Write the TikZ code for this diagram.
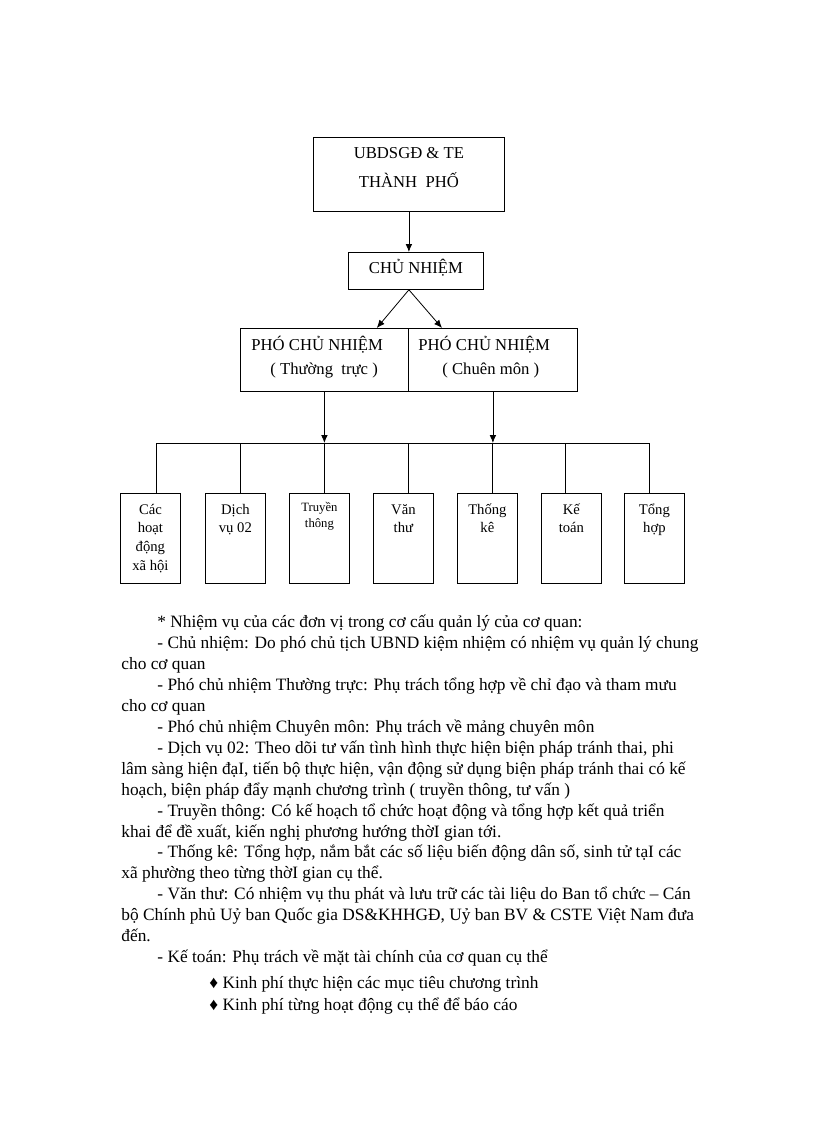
\documentclass[tikz,border=0pt]{standalone}
\usepackage{fontspec}
\setmainfont{Liberation Serif}
\usetikzlibrary{arrows.meta}
\newcommand{\cell}[5]{\parbox[c][#1][t]{#2}{\centering\baselineskip=#4\rule{0pt}{#3}#5}}
\begin{document}
\begin{tikzpicture}[
        x=0.75pt, y=-0.75pt,
        -{Latex[length=6pt,width=5pt]},
        line width=0.6pt,
        box/.style ={draw, inner sep=0pt, anchor=north west, font=\fontsize{12.5}{14}\selectfont},
        unit/.style ={box, font=\fontsize{11}{13}\selectfont},
        txt/.style ={anchor=base west, inner sep=0pt, font=\fontsize{13}{15}\selectfont},
    ]
    \useasboundingbox (0,0) rectangle (816,1123);

    \node[box] (city) at (313,137) {\cell{55.5pt}{143.25pt}{16pt}{21.75pt}{UBDSGĐ \& TE\\THÀNH\ \ PHỐ}};
    \node[box] (chief) at (348,252) {\cell{27.75pt}{101.25pt}{16pt}{14pt}{CHỦ NHIỆM}};
    \node[box] (vice1) at (240,328) {\cell{47.25pt}{126pt}{16.9pt}{18pt}{\raggedright\hspace*{8.25pt}PHÓ CHỦ NHIỆM\\\hspace*{22.5pt}( Thường\ \ trực )}};
    \node[box] (vice2) at (408,328) {\cell{47.25pt}{126.75pt}{16.9pt}{18pt}{\raggedright\hspace*{7.5pt}PHÓ CHỦ NHIỆM\\\hspace*{25.5pt}( Chuên môn )}};

    \node[unit] (u1) at (120,493) {\cell{67.5pt}{45pt}{15.75pt}{13.9pt}{Các\\hoạt\\động\\xã hội}};
    \node[unit] (u2) at (205,493) {\cell{67.5pt}{45pt}{15.75pt}{13.9pt}{Dịch\\vụ 02}};
    \node[unit, font=\fontsize{9.5}{11}\selectfont] (u3) at (289,493) {\cell{67.5pt}{45pt}{13.5pt}{12pt}{Truyền\\thông}};
    \node[unit] (u4) at (373,493) {\cell{67.5pt}{45pt}{15.75pt}{13.9pt}{Văn\\thư}};
    \node[unit] (u5) at (457,493) {\cell{67.5pt}{45pt}{15.75pt}{13.9pt}{Thống\\kê}};
    \node[unit] (u6) at (541,493) {\cell{67.5pt}{45pt}{15.75pt}{13.9pt}{Kế\\toán}};
    \node[unit] (u7) at (624,493) {\cell{67.5pt}{45pt}{15.75pt}{13.9pt}{Tổng\\hợp}};

    \coordinate (apex) at (chief.south -| city.south);
    \coordinate (bus) at (0,443);
    \path (city.south) edge (city.south |- chief.north);
    \path (apex) edge ([xshift=-24pt]vice1.north east);
    \path (apex) edge ([xshift=25.5pt]vice2.north west);
    \path (vice1.south) edge (vice1.south |- bus);
    \path (vice2.south) edge (vice2.south |- bus);

    % drops to the units
    \foreach \u/\x in {u1/156,u2/240,u3/324,u4/408,u5/492,u6/565,u7/649}{
        \coordinate (d\u) at (\x,443);
        \path (d\u) edge[-] (d\u |- \u.north);
    }
    \path (du1) edge[-] (du7);

    % tasks of the units
    \node[txt] (t1) at (157,627) {* Nhiệm vụ của các đơn vị trong cơ cấu quản lý của cơ quan:};
    \node[txt] (t2) at (157,648) {- Chủ nhiệm: Do phó chủ tịch UBND kiệm nhiệm có nhiệm vụ quản lý chung};
    \node[txt] (t3) at (121,669) {cho cơ quan};
    \node[txt] (t4) at (157,690) {- Phó chủ nhiệm Thường trực: Phụ trách tổng hợp về chỉ đạo và tham mưu};
    \node[txt] (t5) at (121,711) {cho cơ quan};
    \node[txt] (t6) at (157,732) {- Phó chủ nhiệm Chuyên môn: Phụ trách về mảng chuyên môn};
    \node[txt] (t7) at (157,753) {- Dịch vụ 02: Theo dõi tư vấn tình hình thực hiện biện pháp tránh thai, phi};
    \node[txt] (t8) at (121,774) {lâm sàng hiện đạI, tiến bộ thực hiện, vận động sử dụng biện pháp tránh thai có kế};
    \node[txt] (t9) at (121,795) {hoạch, biện pháp đẩy mạnh chương trình ( truyền thông, tư vấn )};
    \node[txt] (t10) at (157,816) {- Truyền thông: Có kế hoạch tổ chức hoạt động và tổng hợp kết quả triển};
    \node[txt] (t11) at (121,837) {khai để đề xuất, kiến nghị phương hướng thờI gian tới.};
    \node[txt] (t12) at (157,857) {- Thống kê: Tổng hợp, nắm bắt các số liệu biến động dân số, sinh tử tạI các};
    \node[txt] (t13) at (121,878) {xã phường theo từng thờI gian cụ thể.};
    \node[txt] (t14) at (157,899) {- Văn thư: Có nhiệm vụ thu phát và lưu trữ các tài liệu do Ban tổ chức – Cán};
    \node[txt] (t15) at (121,920) {bộ Chính phủ Uỷ ban Quốc gia DS\&KHHGĐ, Uỷ ban BV \& CSTE Việt Nam đưa};
    \node[txt] (t16) at (121,941) {đến.};
    \node[txt] (t17) at (157,962) {- Kế toán: Phụ trách về mặt tài chính của cơ quan cụ thể};
    \node[txt] (t18) at (209,988) {♦ Kinh phí thực hiện các mục tiêu chương trình};
    \node[txt] (t19) at (209,1010) {♦ Kinh phí từng hoạt động cụ thể để báo cáo};
\end{tikzpicture}
\end{document}
